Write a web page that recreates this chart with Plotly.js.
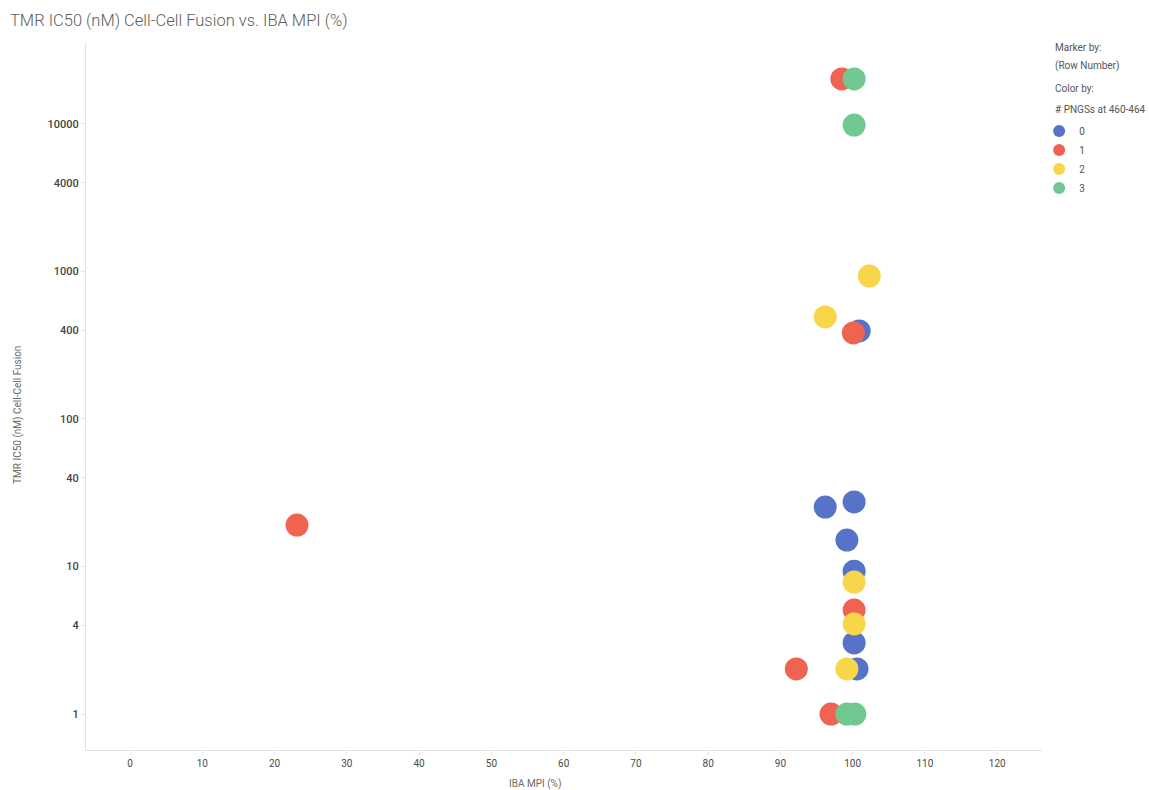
<!DOCTYPE html>
<html>
<head>
<meta charset="utf-8">
<script src="https://cdn.plot.ly/plotly-3.0.1.min.js"></script>
<style>
  html, body { margin: 0; padding: 0; background: #ffffff; }
  #chart { width: 1149px; height: 790px; }
</style>
</head>
<body>
<div id="chart"></div>
<script>
// Groups: number of PNGSs at 460-464
const groupNames = ['0', '1', '2', '3'];
const groupColors = ['#5672C9', '#EE6450', '#F8D64A', '#71C991'];

// IBA MPI (%) per group
const mpi0 = [100.9, 96.2, 100.2, 99.2, 100.2, 100.2, 100.6];
const mpi1 = [23.1, 98.5, 100.1, 100.2, 92.2, 97.0];
const mpi2 = [102.3, 96.2, 100.2, 100.2, 99.2];
const mpi3 = [100.2, 100.2, 99.2, 100.3];

// TMR IC50 (nM) cell-cell fusion per group
const ic0 = [395, 25.3, 27.4, 15.1, 9.3, 3.03, 2.02];
const ic1 = [19.1, 20200, 383, 5.07, 2.02, 1];
const ic2 = [932, 492, 7.85, 4.08, 2.02];
const ic3 = [20200, 9840, 1, 1];

const xTicks = [0, 10, 20, 30, 40, 50, 60, 70, 80, 90, 100, 110, 120];
const yTicks = [1, 4, 10, 40, 100, 400, 1000, 4000, 10000];

const xs = [mpi0, mpi1, mpi2, mpi3];
const ys = [ic0, ic1, ic2, ic3];

const traces = groupNames.map((name, i) => ({
  type: 'scatter',
  mode: 'markers',
  name: name,
  x: xs[i],
  y: ys[i],
  marker: { color: groupColors[i], size: 23, line: { width: 0 } },
  hovertemplate: 'IBA MPI: %{x}<br>IC50: %{y}<extra>' + name + '</extra>'
}));

const FONT = 'Roboto, "Open Sans", sans-serif';
const axisGray = '#e3e3e3';

const sideNote = (text, y) => ({
  text: text, x: 1.0115, y: y,
  xref: 'paper', yref: 'paper', xanchor: 'left', yanchor: 'middle',
  showarrow: false,
  font: { family: FONT, size: 10, color: '#555555' }
});

const layout = {
  width: 1149,
  height: 790,
  paper_bgcolor: '#ffffff',
  plot_bgcolor: '#ffffff',
  margin: { l: 86, r: 107, t: 43, b: 40, pad: 0 },
  title: {
    text: 'TMR IC50 (nM) Cell-Cell Fusion vs. IBA MPI (%)',
    x: 0, xref: 'container', xanchor: 'left',
    y: 1, yref: 'container', yanchor: 'top',
    pad: { t: 14, l: 10 },
    font: { family: FONT, size: 16.5, color: '#5e5e5e', weight: 300 }
  },
  xaxis: {
    range: [-6.1, 126.2],
    tickvals: xTicks,
    ticktext: xTicks.map(String),
    showgrid: false,
    zeroline: false,
    showline: true,
    linecolor: axisGray,
    linewidth: 1,
    ticks: 'outside',
    ticklen: 4,
    tickcolor: axisGray,
    tickfont: { family: FONT, size: 10, color: '#4a4a4a' }
  },
  yaxis: {
    type: 'log',
    range: [-0.244, 4.549],
    tickvals: yTicks,
    ticktext: yTicks.map(String),
    showgrid: false,
    zeroline: false,
    showline: true,
    linecolor: axisGray,
    linewidth: 1,
    ticks: 'outside',
    ticklen: 4,
    tickcolor: axisGray,
    tickfont: { family: FONT, size: 11, color: '#444444', weight: 500 }
  },
  showlegend: true,
  legend: {
    x: 0.997, xref: 'paper', xanchor: 'left',
    y: 0.896, yanchor: 'top',
    bgcolor: 'rgba(0,0,0,0)',
    borderwidth: 0,
    itemsizing: 'constant',
    tracegroupgap: 0,
    font: { family: FONT, size: 10, color: '#555555' }
  },
  annotations: [
    sideNote('Marker by:', 0.994),
    sideNote('(Row Number)', 0.967),
    sideNote('Color by:', 0.935),
    sideNote('# PNGSs at 460-464', 0.906),
    // axis titles
    {
      text: 'IBA MPI (%)', x: 0.47, y: -0.048,
      xref: 'paper', yref: 'paper', xanchor: 'center', yanchor: 'middle',
      showarrow: false,
      font: { family: FONT, size: 10, color: '#6a6a6a' }
    },
    {
      text: 'TMR IC50 (nM) Cell-Cell Fusion', x: 0, y: 0.474,
      xref: 'paper', yref: 'paper', xanchor: 'center', yanchor: 'middle',
      textangle: -90,
      showarrow: false,
      font: { family: FONT, size: 10, color: '#6a6a6a' }
    }
  ]
};

// Place the vertical axis title at a fixed pixel column left of the plot
layout.annotations[5].x = (18 - layout.margin.l) / (layout.width - layout.margin.l - layout.margin.r);

Plotly.newPlot('chart', traces, layout, { displayModeBar: false });
</script>
</body>
</html>
